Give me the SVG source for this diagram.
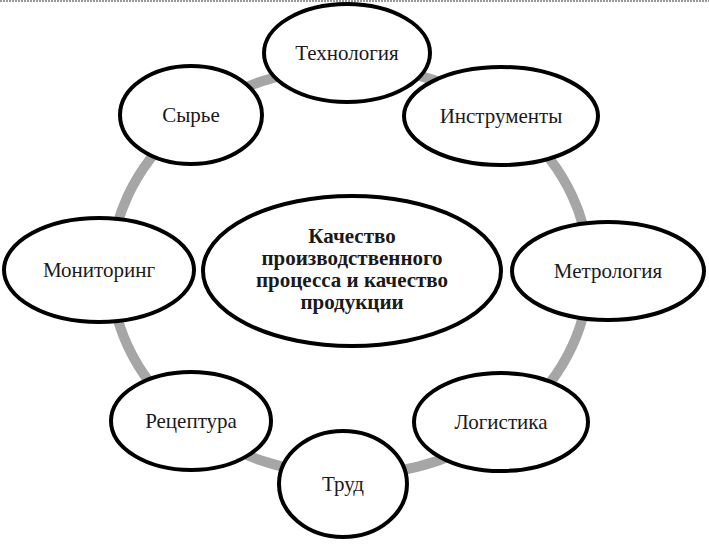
<svg xmlns="http://www.w3.org/2000/svg" width="709" height="544" viewBox="0 0 709 544">
<style>
.n{fill:#fff;stroke:#000;stroke-width:4}
.t{font-family:"Liberation Serif","Times New Roman",serif;font-size:21px;fill:#1a1a1a;text-anchor:middle}
.b{font-weight:bold;font-size:21px}
</style>
<rect width="709" height="544" fill="#fff"/>
<line x1="0" y1="1" x2="709" y2="1" stroke="#999" stroke-width="2" stroke-dasharray="2 1"/>
<g id="connectors">
<ellipse cx="350" cy="271" rx="239" ry="204" fill="none" stroke="#a6a6a6" stroke-width="10"/>
</g>
<g id="center"><ellipse class="n" cx="352" cy="271" rx="149" ry="75"/>
<text class="t b" x="352" y="243">Качество</text>
<text class="t b" x="352" y="265">производственного</text>
<text class="t b" x="352" y="287">процесса и качество</text>
<text class="t b" x="352" y="309">продукции</text></g>
<g id="tech"><ellipse class="n" cx="347" cy="53" rx="83" ry="49"/><text class="t" x="347" y="60">Технология</text></g>
<g id="instr"><ellipse class="n" cx="501" cy="116" rx="97" ry="49"/><text class="t" x="501" y="123">Инструменты</text></g>
<g id="syr"><ellipse class="n" cx="191" cy="115" rx="71" ry="49"/><text class="t" x="191" y="122">Сырье</text></g>
<g id="metr"><ellipse class="n" cx="608" cy="271" rx="96" ry="49"/><text class="t" x="608" y="278">Метрология</text></g>
<g id="mon"><ellipse class="n" cx="99" cy="270" rx="95" ry="52"/><text class="t" x="99" y="277">Мониторинг</text></g>
<g id="rec"><ellipse class="n" cx="191" cy="421" rx="80" ry="49"/><text class="t" x="191" y="428">Рецептура</text></g>
<g id="log"><ellipse class="n" cx="501" cy="422" rx="87" ry="49"/><text class="t" x="501" y="429">Логистика</text></g>
<g id="trud"><ellipse class="n" cx="343" cy="484" rx="64" ry="53"/><text class="t" x="343" y="491">Труд</text></g>
</svg>
